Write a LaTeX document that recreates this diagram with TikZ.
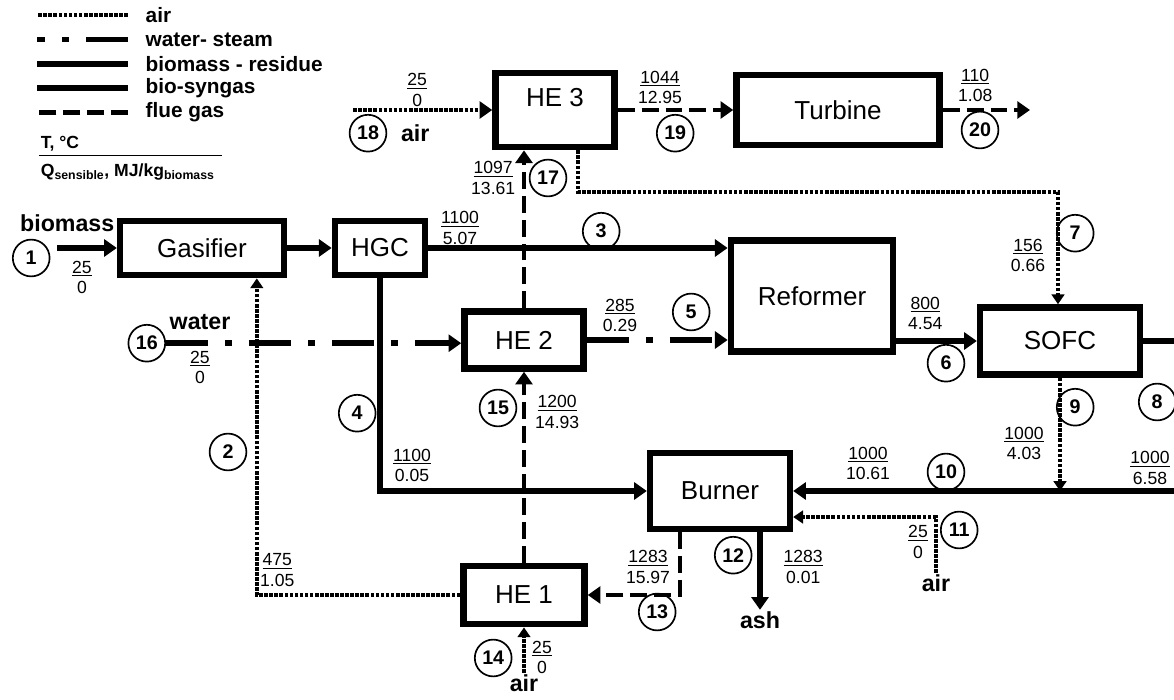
\documentclass[tikz,border=0pt]{standalone}
\usepackage{fontspec}
\setmainfont{Liberation Sans}
\usetikzlibrary{arrows.meta,calc}

\begin{document}
\begin{tikzpicture}[
   box/.style={draw,line width=4.5pt,inner sep=2pt,font=\fontsize{18.5}{21}\selectfont},
   num/.style={draw,circle,line width=1.2pt,minimum size=0.92cm,inner sep=0pt,font=\bfseries\fontsize{14}{16}\selectfont},
   val/.style={align=center,inner sep=1pt,font=\fontsize{12.5}{14.5}\selectfont},
   lab/.style={inner sep=1pt,font=\bfseries\fontsize{16.5}{19}\selectfont},
   leg/.style={anchor=west,inner sep=1pt,font=\bfseries\fontsize{14.8}{17}\selectfont},
   air/.style={line width=2.8pt,dash pattern=on 2.6pt off 1pt},
   steam/.style={line width=4pt,dash pattern=on 30pt off 12pt on 5pt off 12pt},
   mass/.style={line width=4.2pt},
   syngas/.style={line width=4.2pt},
   flue/.style={line width=3.5pt,dash pattern=on 12pt off 5pt},
   tip/.style={-{Triangle[length=9pt,width=12pt]}},
   small tip/.style={-{Triangle[length=7pt,width=9pt]}}]
  \useasboundingbox (0,0) rectangle (29.35,-17.5);
  \clip (0,0) rectangle (29.35,-17.5);

  % legend
  \foreach \s/\t [count=\i] in {air/air, steam/water- steam, mass/biomass - residue, syngas/bio-syngas, flue/flue gas}{
    \node[leg] (lg\i) at (3.6,{-0.375-0.61*(\i-1)}) {\t};
    \draw[\s] ([xshift=-0.4cm]lg\i.west) -- ++(-2.27,0);
  }
  \node[anchor=west,inner sep=1pt,font=\bfseries\fontsize{12.5}{14}\selectfont] (tu) at (0.98,-3.6) {T, °C};
  \draw[line width=1pt] ([yshift=-1.5pt]tu.south west) -- ++(4.57,0);
  \node[anchor=west,inner sep=1pt,font=\bfseries\fontsize{12.5}{14}\selectfont] (qu) at (0.98,-4.3) {Q\textsubscript{sensible}, MJ/kg\textsubscript{biomass}};

  % units
  \node[box,minimum width=4.1cm,minimum height=1.36cm] (gas) at (5.05,-6.2) {Gasifier};
  \node[box,minimum width=2.26cm,minimum height=1.36cm] (hgc) at (9.5,-6.2) {HGC};
  \node[box,minimum width=2.98cm,minimum height=1.86cm,text depth=0.65cm] (he3) at (13.875,-2.75) {HE 3};
  \node[box,minimum width=5.08cm,minimum height=1.76cm] (tur) at (20.95,-2.75) {Turbine};
  \node[box,minimum width=4.06cm,minimum height=2.78cm] (ref) at (20.3,-7.4) {Reformer};
  \node[box,minimum width=4.0cm,minimum height=1.68cm] (sofc) at (26.5,-8.525) {SOFC};
  \node[box,minimum width=2.98cm,minimum height=1.43cm] (he2) at (13.1,-8.5) {HE 2};
  \node[box,minimum width=3.5cm,minimum height=1.9cm] (bur) at (18.0,-12.275) {Burner};
  \node[box,minimum width=3.03cm,minimum height=1.46cm] (he1) at (13.1,-14.875) {HE 1};

  % stream numbers
  \foreach \n/\x/\y in {1/0.78/-6.45, 2/5.7/-11.3, 3/15.03/-5.78, 4/8.93/-10.33, 5/17.28/-7.8,
      6/23.65/-9.08, 7/26.88/-5.83, 8/28.93/-10.05, 9/26.88/-10.18, 10/23.65/-11.8,
      11/23.98/-13.25, 12/18.33/-13.88, 13/16.43/-15.3, 14/12.33/-16.45, 15/12.45/-10.2,
      16/3.67/-8.58, 17/13.7/-4.45, 18/9.2/-3.33, 19/16.88/-3.33, 20/24.5/-3.25}
    \node[num] (c\n) at (\x,\y) {\n};

  % T over Q
  \foreach \n/\x/\y/\t/\q in {1/2.05/-6.93/25/0, 16/5.0/-9.18/25/0, 2/6.93/-14.25/475/1.05,
      4/10.3/-11.63/1100/0.05, 15/13.93/-10.3/1200/14.93, 14/13.55/-16.43/25/0,
      3/11.5/-5.7/1100/5.07, 5/15.5/-7.88/285/0.29, 6/23.13/-7.83/800/4.54,
      9/25.6/-11.08/1000/4.03, 10/21.7/-11.58/1000/10.61, 8/28.75/-11.7/1000/6.58,
      11/22.95/-13.55/25/0, 12/20.08/-14.17/1283/0.01, 13/16.2/-14.17/1283/15.97,
      7/25.7/-6.38/156/0.66, 17/12.33/-4.45/1097/13.61, 18/10.43/-2.25/25/0,
      19/16.5/-2.18/1044/12.95, 20/24.38/-2.13/110/1.08}
    \node[val] (v\n) at (\x,\y) {\underline{\t}\\\q};

  \node[lab] (lb) at (1.68,-5.58) {biomass};
  \node[lab] (lw) at (5.0,-8.05) {water};
  \node[lab] (a18) at (10.38,-3.33) {air};
  \node[lab] (a11) at (23.4,-14.58) {air};
  \node[lab] (ash) at (19.0,-15.5) {ash};
  \node[lab] (a14) at (13.1,-17.08) {air};

  \coordinate (k7) at (26.45,-4.8);
  \coordinate (k18) at (8.83,-2.75);
  \coordinate (k20) at (25.75,-2.75);

  % streams
  \draw[mass,tip,shorten <=5pt] (c1.east |- gas.west) -- (gas.west);
  \draw[syngas,tip] (gas) -- (hgc);
  \draw[syngas,tip] (hgc.east) -- (hgc.east -| ref.west);
  \draw[mass,tip] (hgc.south) |- (bur.west);
  \draw[air,small tip] (he1.west) -| ($(gas.south)+(1.37,0)$);
  \draw[steam,tip] (c16.east) -- (c16.east -| he2.west);
  \draw[steam,tip] (he2.east) -- (he2.east -| ref.west);
  \draw[syngas,tip] (sofc.west -| ref.east) -- (sofc.west);
  \draw[air,small tip] ($(he3.south)+(0.575,0)$) |- (k7) -- (k7 |- sofc.north);
  \draw[syngas,tip] (sofc.east) -- ++(1.5,0) |- (bur.east);
  \draw[air,small tip] (sofc.south) -- (sofc.south |- bur.east);
  \draw[air,small tip] (a11.north) |- ($(bur.east)+(0,-0.65)$);
  \draw[mass,tip] ($(bur.south)+(1,0)$) -- (ash.north);
  \draw[flue,tip] ($(bur.south)+(-1,0)$) |- (he1.east);
  \draw[air,small tip] (a14.north) -- (he1.south);
  \draw[flue,tip] (he1.north) -- (he2.south);
  \draw[flue,tip] (he2.north) -- (he2.north |- he3.south);
  \draw[air,tip] (k18) -- (he3.west);
  \draw[flue,tip] (he3.east) -- (tur.west);
  \draw[flue,tip] (tur.east) -- (k20);
\end{tikzpicture}
\end{document}
